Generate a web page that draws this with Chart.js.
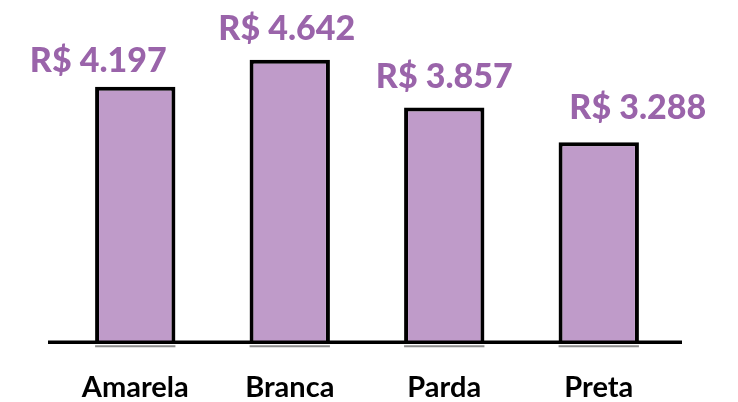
<!DOCTYPE html>
<html>
<head>
<meta charset="utf-8">
<script src="https://cdn.jsdelivr.net/npm/chart.js@4"></script>
<style>
  html, body { margin: 0; padding: 0; background: #fff; }
  #wrap { width: 738px; height: 402px; position: relative; }
</style>
</head>
<body>
<div id="wrap"><canvas id="chart"></canvas></div>
<script>
// data
const categories = ["Amarela", "Branca", "Parda", "Preta"];
const income = [4197, 4642, 3857, 3288];
const valueLabels = ["R$ 4.197", "R$ 4.642", "R$ 3.857", "R$ 3.288"];

const PURPLE_FILL = "#bf9bc9";
const PURPLE_TEXT = "#9a64aa";

// labels in the original are nudged off the bar centre
const LABEL_NUDGE = [
  { dx: -37, dy: -15 },
  { dx: -3, dy: -20 },
  { dx: 0, dy: -20 },
  { dx: 39, dy: -23 },
];

// baseline, small shadow under each bar and value labels above bars
const decorPlugin = {
  id: "decor",
  afterDatasetsDraw(chart) {
    const { ctx, chartArea } = chart;
    const y0 = chart.scales.y.getPixelForValue(0);
    const meta = chart.getDatasetMeta(0);

    ctx.save();
    // gray shadow line under bars
    ctx.strokeStyle = "#8c8c8c";
    ctx.lineWidth = 2;
    meta.data.forEach((bar) => {
      ctx.beginPath();
      ctx.moveTo(bar.x - bar.width / 2, y0 + 4);
      ctx.lineTo(bar.x + bar.width / 2, y0 + 4);
      ctx.stroke();
    });

    // baseline
    ctx.strokeStyle = "#000";
    ctx.lineWidth = 3.5;
    ctx.beginPath();
    ctx.moveTo(chartArea.left - 10, y0);
    ctx.lineTo(chartArea.right + 6, y0);
    ctx.stroke();

    // value labels
    ctx.fillStyle = PURPLE_TEXT;
    ctx.font = "900 34px Lato";
    ctx.textAlign = "center";
    ctx.textBaseline = "alphabetic";
    meta.data.forEach((bar, i) => {
      const n = LABEL_NUDGE[i];
      ctx.fillText(valueLabels[i], bar.x + n.dx, bar.y + n.dy);
    });
    ctx.restore();
  },
};

new Chart(document.getElementById("chart"), {
  type: "bar",
  data: {
    labels: categories,
    datasets: [
      {
        data: income,
        backgroundColor: PURPLE_FILL,
        borderColor: "#000",
        borderWidth: 4,
        borderSkipped: "bottom",
        barPercentage: 0.52,
        categoryPercentage: 1,
      },
    ],
  },
  options: {
    responsive: true,
    maintainAspectRatio: false,
    animation: false,
    layout: {
      padding: { left: 58, right: 62, top: 38, bottom: -31 },
    },
    plugins: {
      legend: { display: false },
      tooltip: { enabled: false },
    },
    scales: {
      x: {
        grid: { display: false, drawTicks: false },
        border: { display: false },
        ticks: {
          color: "#000",
          padding: 28,
          font: { family: "Lato", size: 29, weight: "bold" },
        },
      },
      y: {
        display: false,
        min: 0,
        max: 5000,
      },
    },
  },
  plugins: [decorPlugin],
});
</script>
</body>
</html>
